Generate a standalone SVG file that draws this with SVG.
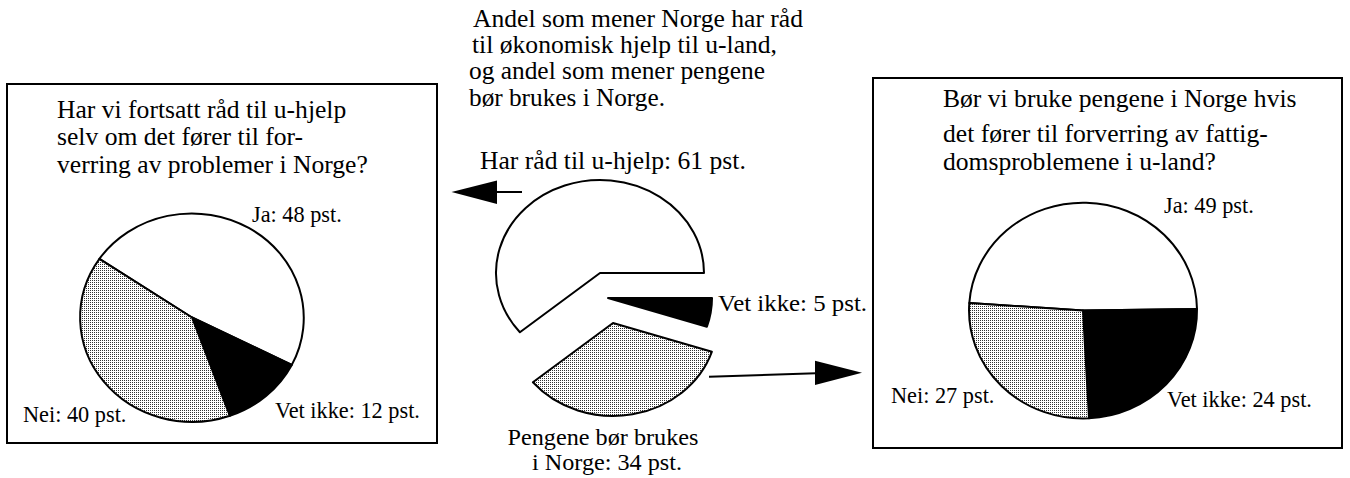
<svg xmlns="http://www.w3.org/2000/svg" width="1350" height="478" viewBox="0 0 1350 478">
<defs>
<pattern id="dots" patternUnits="userSpaceOnUse" width="2" height="2">
<rect width="2" height="2" fill="#ffffff"/>
<rect width="1" height="1" fill="#333333"/>
</pattern>
</defs>
<style>
text{font-family:"Liberation Serif","Times New Roman",serif;fill:#000}
.t{font-size:25.6px}
.m{font-size:25px}
.c{font-size:24px}
.l{font-size:22.3px}
.box{fill:#fff;stroke:#000;stroke-width:2}
.w{fill:#fff;stroke:#000;stroke-width:2;stroke-linejoin:round}
.b{fill:#000;stroke:#000;stroke-width:2;stroke-linejoin:round}
.g{fill:url(#dots);stroke:#000;stroke-width:2;stroke-linejoin:round}
.ln{stroke:#000;stroke-width:2;fill:none}
</style>
<rect width="1350" height="478" fill="#fff"/>

<g id="left-box">
<rect class="box" x="7" y="84" width="430" height="359"/>
<text class="t" x="57" y="118">Har vi fortsatt råd til u-hjelp</text>
<text class="t" x="57" y="145">selv om det fører til for-</text>
<text class="t" x="57" y="173">verring av problemer i Norge?</text>
<path class="w" d="M192,317.5 L99.4,258.8 A112,104.5 0 0 1 291.8,364.9 Z"/>
<path class="b" d="M192,317.5 L291.8,364.9 A112,104.5 0 0 1 229.9,415.8 Z"/>
<path class="g" d="M192,317.5 L229.9,415.8 A112,104.5 0 0 1 99.4,258.8 Z"/>
<text class="l" x="252" y="222">Ja: 48 pst.</text>
<text class="l" x="23" y="422">Nei: 40 pst.</text>
<text class="l" x="275" y="418">Vet ikke: 12 pst.</text>
</g>

<g id="center">
<text class="m" x="473" y="27" textLength="330" lengthAdjust="spacingAndGlyphs">Andel som mener Norge har råd</text>
<text class="m" x="472" y="53" textLength="305" lengthAdjust="spacingAndGlyphs">til økonomisk hjelp til u-land,</text>
<text class="m" x="469" y="79" textLength="296" lengthAdjust="spacingAndGlyphs">og andel som mener pengene</text>
<text class="m" x="469" y="106" textLength="196" lengthAdjust="spacingAndGlyphs">bør brukes i Norge.</text>
<text class="t" x="480" y="169">Har råd til u-hjelp: 61 pst.</text>
<path class="w" d="M600,273 L704,273 A104,93 0 1 0 519.9,332.3 Z"/>
<path class="b" d="M608,298 L712,298 A104,93 0 0 1 706.9,326.7 Z"/>
<path class="g" d="M613,323 L711.9,351.7 A104,93 0 0 1 532.9,382.3 Z"/>
<text class="c" x="718" y="311" textLength="149" lengthAdjust="spacingAndGlyphs">Vet ikke: 5 pst.</text>
<text class="c" x="603" y="445" text-anchor="middle" textLength="191" lengthAdjust="spacingAndGlyphs">Pengene bør brukes</text>
<text class="c" x="607" y="470" text-anchor="middle" textLength="150" lengthAdjust="spacingAndGlyphs">i Norge: 34 pst.</text>
</g>

<g id="right-box">
<rect class="box" x="873" y="78" width="469" height="370"/>
<text class="t" x="943" y="107">Bør vi bruke pengene i Norge hvis</text>
<text class="t" x="943" y="142">det fører til forverring av fattig-</text>
<text class="t" x="943" y="170">domsproblemene i u-land?</text>
<path class="w" d="M1083,310.5 L969.3,303 A114,108 0 0 1 1197,309 Z"/>
<path class="b" d="M1083,310.5 L1197,309 A114,108 0 0 1 1089,418.3 Z"/>
<path class="g" d="M1083,310.5 L1089,418.3 A114,108 0 0 1 969.3,303 Z"/>
<text class="l" x="1164" y="213">Ja: 49 pst.</text>
<text class="l" x="891" y="403">Nei: 27 pst.</text>
<text class="l" x="1167" y="407">Vet ikke: 24 pst.</text>
</g>

<g id="connectors">
<line class="ln" x1="522" y1="192" x2="496" y2="192"/>
<polygon points="451.5,192 497,180.5 497,204" fill="#000"/>
<line class="ln" x1="709" y1="376.7" x2="816" y2="373.3"/>
<polygon points="862,372.7 815,360.7 815,385" fill="#000"/>
</g>
</svg>
